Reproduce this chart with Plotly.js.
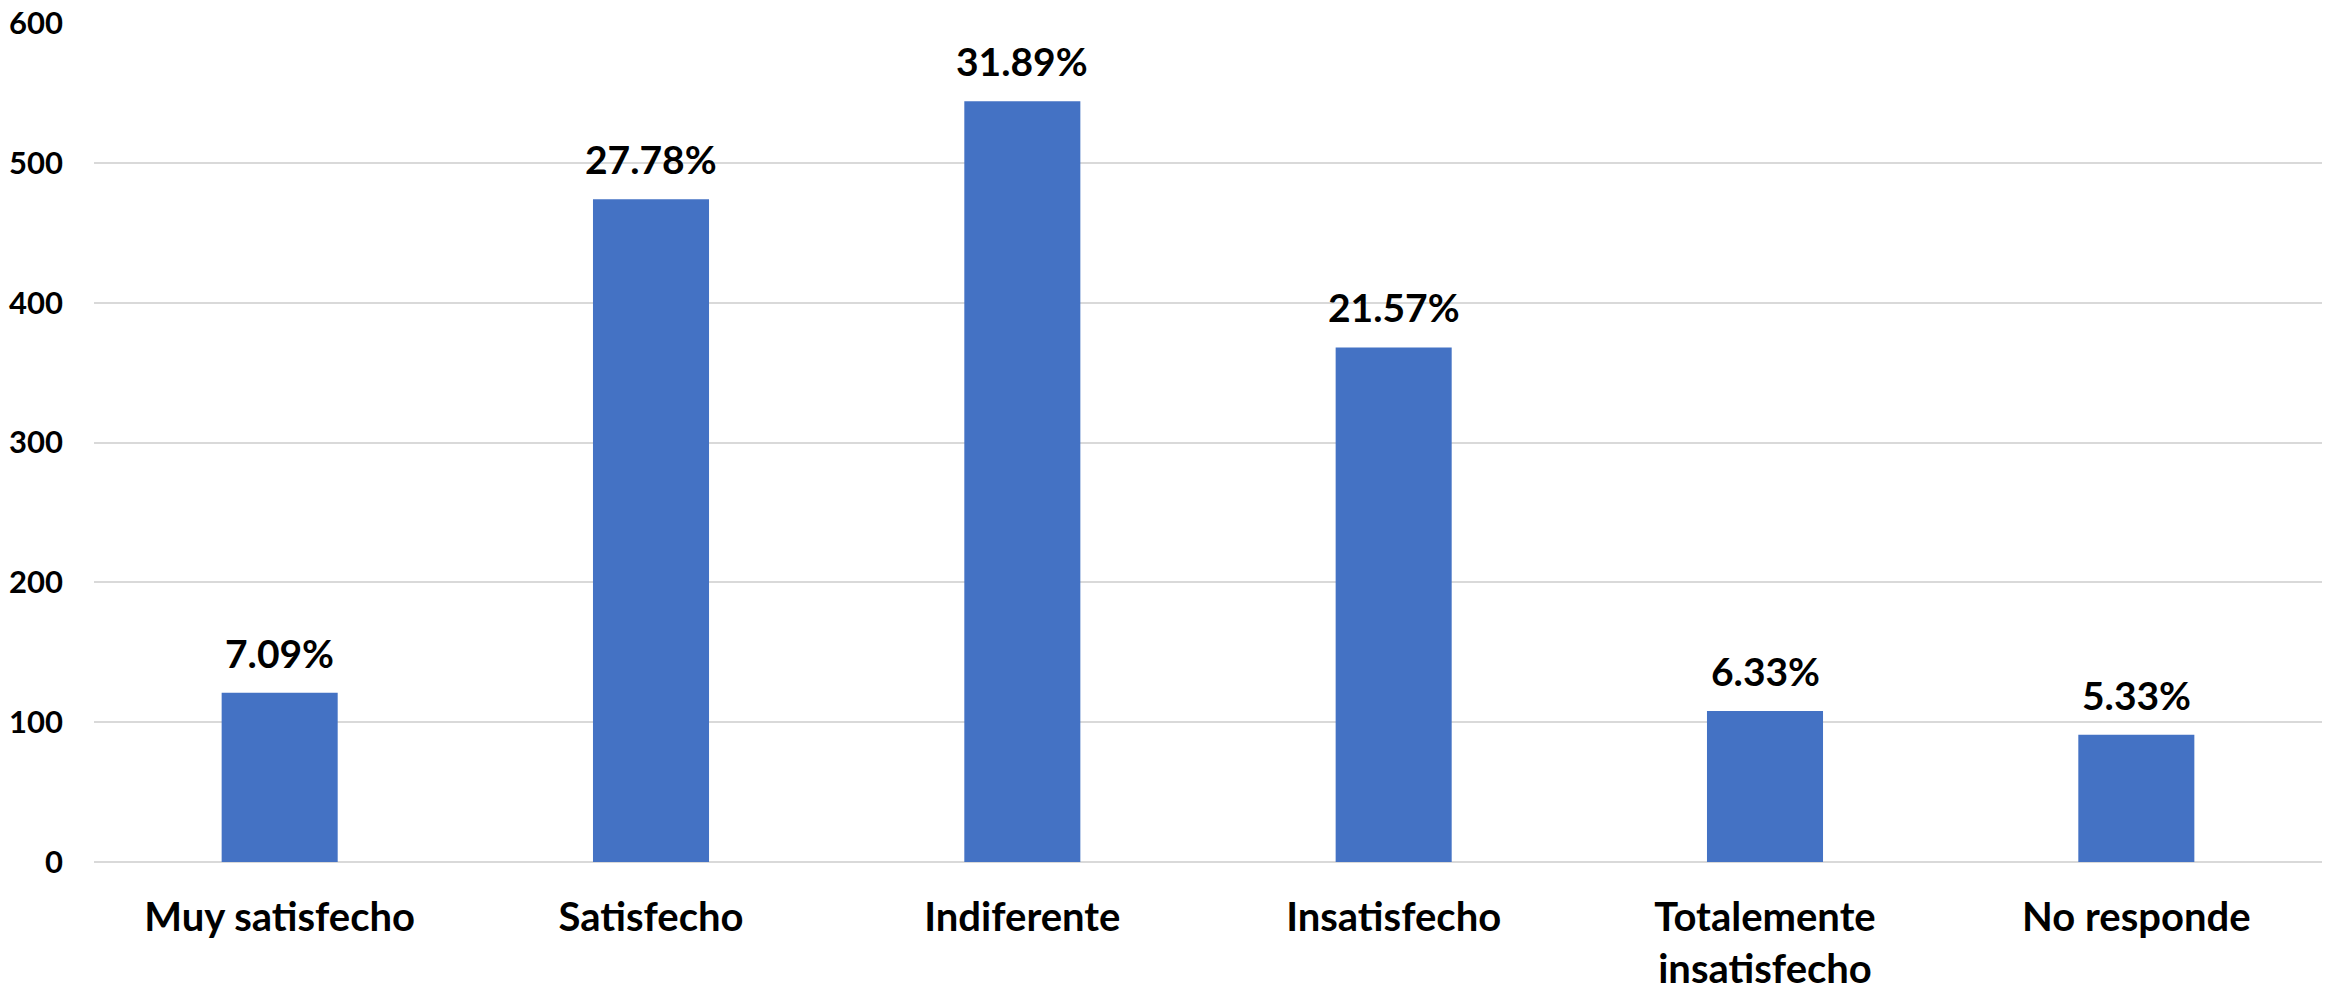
<!DOCTYPE html>
<html>
<head>
<meta charset="utf-8">
<script src="https://cdn.plot.ly/plotly-3.0.1.min.js"></script>
<style>html,body{margin:0;padding:0;background:#fff;}#chart{width:2326px;height:986px;}</style>
</head>
<body>
<div id="chart"></div>
<script>
const categories = ["Muy satisfecho", "Satisfecho", "Indiferente", "Insatisfecho", "Totalemente<br>insatisfecho", "No responde"];
const counts = [121, 474, 544, 368, 108, 91];
const percentLabels = ["7.09%", "27.78%", "31.89%", "21.57%", "6.33%", "5.33%"];
const yTicks = [0, 100, 200, 300, 400, 500, 600];

const FONT = "Lato, 'Open Sans', sans-serif";

const trace = {
  type: "bar",
  x: categories,
  y: counts,
  marker: {color: "#4472C4"},
  hoverinfo: "none"
};

const annotations = categories.map((c, i) => ({
  x: c, y: counts[i], xref: "x", yref: "y",
  text: "<b>" + percentLabels[i] + "</b>",
  showarrow: false, yanchor: "bottom", yshift: 15,
  font: {family: FONT, size: 39, color: "#000"}
}));

const layout = {
  width: 2326, height: 986,
  margin: {l: 94, r: 4, t: 23, b: 124},
  paper_bgcolor: "#fff", plot_bgcolor: "#fff",
  bargap: 0.6875,
  showlegend: false,
  font: {family: FONT, color: "#000"},
  xaxis: {
    type: "category",
    showgrid: false, zeroline: false, showline: false,
    ticks: "", ticklabelstandoff: 28,
    tickfont: {family: FONT, size: 40, color: "#000", weight: "bold"}
  },
  yaxis: {
    range: [0, 600],
    tickvals: yTicks,
    ticktext: yTicks.map(String),
    showgrid: true, gridcolor: "#d9d9d9", gridwidth: 2,
    zeroline: true, zerolinecolor: "#d9d9d9", zerolinewidth: 2,
    showline: false, ticks: "", ticklabelstandoff: 30,
    tickfont: {family: FONT, size: 31, color: "#000", weight: "bold"}
  },
  annotations: annotations
};

Plotly.newPlot("chart", [trace], layout, {staticPlot: true, displayModeBar: false});
</script>
</body>
</html>
